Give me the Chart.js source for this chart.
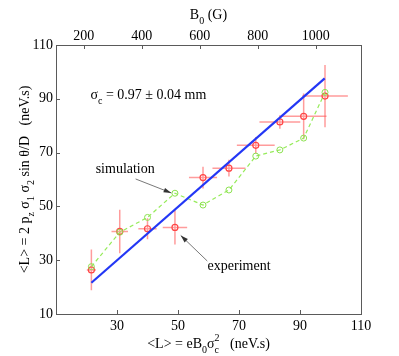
<!DOCTYPE html>
<html>
<head>
<meta charset="utf-8">
<script src="https://cdn.jsdelivr.net/npm/chart.js@4.4.0/dist/chart.umd.min.js"></script>
<style>
  body { margin: 0; background: #fff; }
  #wrap { width: 399px; height: 356px; }
</style>
</head>
<body>
<div id="wrap"><canvas id="plot" width="399" height="356"></canvas></div>
<script>
// data
var expX = [21.6, 30.9, 40.0, 49.0, 58.2, 66.7, 75.5, 83.4, 91.2, 98.2];
var expY = [26.4, 40.7, 41.7, 42.2, 60.7, 64.2, 72.7, 81.4, 83.5, 91.0];
var expXErr = [1.5, 2.7, 3.0, 4.0, 4.6, 5.4, 6.2, 6.7, 7.5, 7.5];
var expYErr = [7.6, 8.1, 3.9, 6.4, 4.0, 3.1, 3.1, 2.5, 8.5, 11.6];
var simY = [27.6, 40.4, 45.9, 54.9, 50.5, 56.1, 68.7, 71.0, 75.4, 92.4];
var fitX = [21.6, 98.1];
var fitY = [21.6, 97.6];

var xTicks = [30, 50, 70, 90, 110];
var yTicks = [10, 30, 50, 70, 90, 110];
var topTicks = [200, 400, 600, 800, 1000];

var serif = '"Liberation Serif", "DejaVu Serif", serif';
var axisGrey = '#5a5a5a';

function pts(xs, ys) {
    var out = [];
    for (var i = 0; i < xs.length; i++) out.push({ x: xs[i], y: ys[i] });
    return out;
}

// draw text with sub/superscripts; parts = [{t, sub, sup}]
function richText(ctx, parts, x, y, align) {
    var big = '14px ' + serif, small = '10px ' + serif;
    var w = 0, widths = [];
    parts.forEach(function (p) {
        ctx.font = big;
        var pw = p.t ? ctx.measureText(p.t).width : 0;
        ctx.font = small;
        var sw = p.sub ? ctx.measureText(p.sub).width : 0;
        var uw = p.sup ? ctx.measureText(p.sup).width : 0;
        widths.push([pw, Math.max(sw, uw)]);
        w += pw + Math.max(sw, uw);
    });
    var cx = align === 'center' ? x - w / 2 : x;
    ctx.textBaseline = 'middle';
    ctx.textAlign = 'left';
    parts.forEach(function (p, i) {
        if (p.t) { ctx.font = big; ctx.fillText(p.t, cx, y); }
        cx += widths[i][0];
        ctx.font = small;
        if (p.sub) ctx.fillText(p.sub, cx, y + 6);
        if (p.sup) ctx.fillText(p.sup, cx, y - 6);
        cx += widths[i][1];
    });
}

function arrow(ctx, x0, y0, x1, y1) {
    var a = Math.atan2(y1 - y0, x1 - x0);
    ctx.beginPath();
    ctx.moveTo(x0, y0);
    ctx.lineTo(x1, y1);
    ctx.stroke();
    ctx.beginPath();
    ctx.moveTo(x1, y1);
    ctx.lineTo(x1 - 8 * Math.cos(a - 0.3), y1 - 8 * Math.sin(a - 0.3));
    ctx.lineTo(x1 - 8 * Math.cos(a + 0.3), y1 - 8 * Math.sin(a + 0.3));
    ctx.closePath();
    ctx.fill();
}

var decor = {
    id: 'decor',
    beforeDatasetsDraw: function (chart) {
        var ctx = chart.ctx, sx = chart.scales.x, sy = chart.scales.y;
        ctx.save();
        ctx.strokeStyle = 'rgba(255, 90, 90, 0.6)';
        ctx.lineWidth = 1.5;
        for (var i = 0; i < expX.length; i++) {
            ctx.beginPath();
            ctx.moveTo(sx.getPixelForValue(expX[i] - expXErr[i]), sy.getPixelForValue(expY[i]));
            ctx.lineTo(sx.getPixelForValue(expX[i] + expXErr[i]), sy.getPixelForValue(expY[i]));
            ctx.moveTo(sx.getPixelForValue(expX[i]), sy.getPixelForValue(expY[i] - expYErr[i]));
            ctx.lineTo(sx.getPixelForValue(expX[i]), sy.getPixelForValue(expY[i] + expYErr[i]));
            ctx.stroke();
        }
        ctx.restore();
    },
    afterDraw: function (chart) {
        var ctx = chart.ctx, a = chart.chartArea;
        var sx = chart.scales.x, sy = chart.scales.y, st = chart.scales.x2;
        ctx.save();
        // box and inward ticks
        ctx.strokeStyle = axisGrey;
        ctx.lineWidth = 1;
        ctx.strokeRect(a.left + 0.5, a.top + 0.5, a.right - a.left, a.bottom - a.top);
        ctx.beginPath();
        yTicks.forEach(function (v) {
            var p = Math.round(sy.getPixelForValue(v)) + 0.5;
            ctx.moveTo(a.left, p); ctx.lineTo(a.left + 4, p);
        });
        xTicks.forEach(function (v) {
            var p = Math.round(sx.getPixelForValue(v)) + 0.5;
            ctx.moveTo(p, a.bottom); ctx.lineTo(p, a.bottom - 4);
        });
        topTicks.forEach(function (v) {
            var p = Math.round(st.getPixelForValue(v)) + 0.5;
            ctx.moveTo(p, a.top); ctx.lineTo(p, a.top + 4);
        });
        ctx.stroke();

        // annotations
        ctx.fillStyle = '#000';
        richText(ctx, [{ t: 'σ', sub: 'c' }, { t: ' = 0.97 ± 0.04 mm' }],
            sx.getPixelForValue(21.3), sy.getPixelForValue(91.4), 'left');
        richText(ctx, [{ t: 'simulation' }], sx.getPixelForValue(23.0), sy.getPixelForValue(63.9), 'left');
        richText(ctx, [{ t: 'experiment' }], sx.getPixelForValue(59.7), sy.getPixelForValue(27.6), 'left');
        ctx.strokeStyle = '#555';
        ctx.fillStyle = '#333';
        ctx.lineWidth = 0.8;
        arrow(ctx, sx.getPixelForValue(36.1), sy.getPixelForValue(60.2), sx.getPixelForValue(47.8), sy.getPixelForValue(55.0));
        arrow(ctx, sx.getPixelForValue(59.6), sy.getPixelForValue(29.7), sx.getPixelForValue(50.9), sy.getPixelForValue(39.2));

        // axis titles
        ctx.fillStyle = '#000';
        var mid = (a.left + a.right) / 2;
        richText(ctx, [{ t: '<L> = eB', sub: '0' }, { t: 'σ', sub: 'c', sup: '2' }, { t: '   (neV.s)' }], mid, 344, 'center');
        richText(ctx, [{ t: 'B', sub: '0' }, { t: ' (G)' }], mid, 15, 'center');
        ctx.translate(25, (a.top + a.bottom) / 2);
        ctx.rotate(-Math.PI / 2);
        richText(ctx, [{ t: '<L> = 2 p', sub: 'z' }, { t: ' σ', sub: '1' }, { t: ' σ', sub: '2' },
            { t: ' sin θ/D   (neV.s)' }], 0, 0, 'center');
        ctx.restore();
    }
};

var tickFont = { family: serif, size: 14 };
function plain(v) { return String(v); }

new Chart(document.getElementById('plot'), {
    type: 'scatter',
    data: {
        datasets: [{
            label: 'fit',
            data: pts(fitX, fitY),
            showLine: true,
            borderColor: 'rgb(35, 55, 245)',
            borderWidth: 2.2,
            pointRadius: 0
        }, {
            label: 'simulation',
            data: pts(expX, simY),
            showLine: true,
            borderColor: 'rgb(150, 235, 90)',
            borderWidth: 1.2,
            borderDash: [4, 3],
            pointRadius: 3,
            pointBorderWidth: 1,
            pointBorderColor: 'rgb(140, 225, 80)',
            pointBackgroundColor: 'rgba(0,0,0,0)'
        }, {
            label: 'experiment',
            data: pts(expX, expY),
            pointRadius: 3,
            pointBorderWidth: 1.2,
            pointBorderColor: 'rgb(255, 70, 70)',
            pointBackgroundColor: 'rgba(0,0,0,0)'
        }]
    },
    options: {
        responsive: false,
        animation: false,
        layout: { padding: { left: 0, right: 38, top: 0, bottom: 0 } },
        plugins: { legend: { display: false }, tooltip: { enabled: false } },
        scales: {
            x: {
                type: 'linear', position: 'bottom', min: 10, max: 110,
                afterBuildTicks: function (s) { s.ticks = xTicks.map(function (v) { return { value: v }; }); },
                afterFit: function (s) { s.height = 42; },
                grid: { display: false, drawTicks: false },
                border: { display: false },
                ticks: { font: tickFont, color: '#000', padding: 4, maxRotation: 0, callback: plain }
            },
            x2: {
                type: 'linear', position: 'top', min: 104.5, max: 1156,
                afterBuildTicks: function (s) { s.ticks = topTicks.map(function (v) { return { value: v }; }); },
                afterFit: function (s) { s.height = 45; },
                grid: { display: false, drawTicks: false },
                border: { display: false },
                ticks: { font: tickFont, color: '#000', padding: 0, maxRotation: 0, callback: plain }
            },
            y: {
                type: 'linear', min: 10, max: 110,
                afterBuildTicks: function (s) { s.ticks = yTicks.map(function (v) { return { value: v }; }); },
                afterFit: function (s) { s.width = 56; },
                grid: { display: false, drawTicks: false },
                border: { display: false },
                ticks: { font: tickFont, color: '#000', padding: 3, callback: plain }
            }
        }
    },
    plugins: [decor]
});
</script>
</body>
</html>
